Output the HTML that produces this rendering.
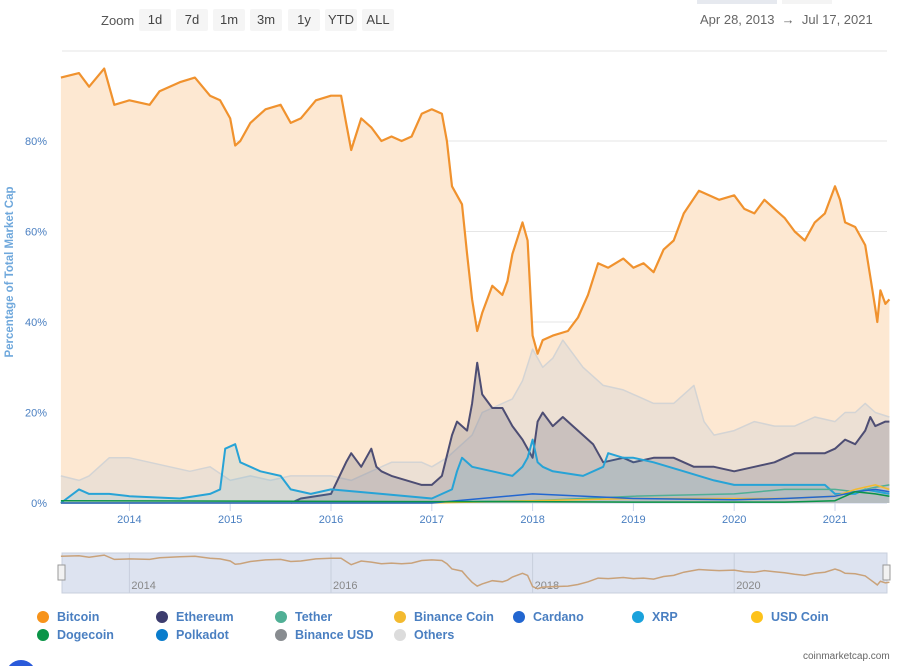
<!DOCTYPE html>
<html><head><meta charset="utf-8">
<style>
body{margin:0;background:#fff;font-family:"Liberation Sans",sans-serif;}
#wrap{position:relative;width:903px;height:666px;overflow:hidden;}
.btn{position:absolute;top:9px;height:22px;line-height:22px;background:#f5f5f5;color:#444;font-size:13px;text-align:center;border-radius:2px}
.leg{position:absolute;font-size:12.5px;color:#4a7fc1;font-weight:bold;}
.dot{display:inline-block;width:12px;height:12px;border-radius:6px;vertical-align:-2px;margin-right:8px}
</style></head><body>
<div id="wrap">
<div style="position:absolute;left:697px;top:0;width:80px;height:4px;background:#e6e9ef"></div>
<div style="position:absolute;left:782px;top:0;width:50px;height:4px;background:#f4f4f4"></div>
<div style="position:absolute;left:101px;top:13px;font-size:13px;color:#555">Zoom</div>
<div class="btn" style="left:139px;width:32px">1d</div>
<div class="btn" style="left:176px;width:32px">7d</div>
<div class="btn" style="left:213px;width:32px">1m</div>
<div class="btn" style="left:250px;width:32px">3m</div>
<div class="btn" style="left:288px;width:32px">1y</div>
<div class="btn" style="left:325px;width:32px">YTD</div>
<div class="btn" style="left:362px;width:32px">ALL</div>
<div style="position:absolute;left:700px;top:12px;font-size:13px;color:#666">Apr 28, 2013 &nbsp;→&nbsp; Jul 17, 2021</div>
<svg id="svg" width="903" height="666" style="position:absolute;left:0;top:0"></svg>
<div>
<div class="leg" style="left:37px;top:610px"><span class="dot" style="background:#f7931a"></span>Bitcoin</div>
<div class="leg" style="left:156px;top:610px"><span class="dot" style="background:#3c3c6e"></span>Ethereum</div>
<div class="leg" style="left:275px;top:610px"><span class="dot" style="background:#50af95"></span>Tether</div>
<div class="leg" style="left:394px;top:610px"><span class="dot" style="background:#f3ba2f"></span>Binance Coin</div>
<div class="leg" style="left:513px;top:610px"><span class="dot" style="background:#2266d0"></span>Cardano</div>
<div class="leg" style="left:632px;top:610px"><span class="dot" style="background:#1aa2dc"></span>XRP</div>
<div class="leg" style="left:751px;top:610px"><span class="dot" style="background:#fdc21a"></span>USD Coin</div>
<div class="leg" style="left:37px;top:628px"><span class="dot" style="background:#0a9447"></span>Dogecoin</div>
<div class="leg" style="left:156px;top:628px"><span class="dot" style="background:#0a7ccc"></span>Polkadot</div>
<div class="leg" style="left:275px;top:628px"><span class="dot" style="background:#888c90"></span>Binance USD</div>
<div class="leg" style="left:394px;top:628px"><span class="dot" style="background:#dcdcdc"></span>Others</div>
</div>
<div style="position:absolute;left:803px;top:651px;font-size:10px;color:#666">coinmarketcap.com</div>
<div style="position:absolute;left:6px;top:660px;width:30px;height:30px;border-radius:15px;background:#2a5ada"></div>
</div>
<script>
const btcT=[2013.32,2013.5,2013.6,2013.75,2013.85,2014.0,2014.2,2014.3,2014.5,2014.65,2014.8,2014.9,2015.0,2015.05,2015.1,2015.2,2015.35,2015.5,2015.6,2015.7,2015.85,2016.0,2016.1,2016.15,2016.2,2016.3,2016.4,2016.5,2016.6,2016.7,2016.8,2016.9,2017.0,2017.1,2017.15,2017.2,2017.3,2017.35,2017.4,2017.45,2017.5,2017.6,2017.7,2017.75,2017.8,2017.9,2017.95,2018.0,2018.05,2018.1,2018.2,2018.35,2018.45,2018.55,2018.65,2018.75,2018.9,2019.0,2019.1,2019.2,2019.3,2019.4,2019.5,2019.65,2019.75,2019.85,2020.0,2020.1,2020.2,2020.3,2020.4,2020.5,2020.6,2020.7,2020.8,2020.9,2021.0,2021.05,2021.1,2021.2,2021.3,2021.35,2021.4,2021.42,2021.45,2021.5,2021.54];
const btcV=[94,95,92,96,88,89,88,91,93,94,90,89,85,79,80,84,87,88,84,85,89,90,90,84,78,85,83,80,81,80,81,86,87,86,80,70,66,55,45,38,42,48,46,49,55,62,58,37,33,36,37,38,41,46,53,52,54,52,53,51,56,58,64,69,68,67,68,65,64,67,65,63,60,58,62,64,70,67,62,61,57,50,43,40,47,44,45];
const ethT=[2015.6,2015.7,2016.0,2016.15,2016.2,2016.3,2016.4,2016.45,2016.5,2016.6,2016.9,2017.0,2017.1,2017.2,2017.25,2017.35,2017.4,2017.45,2017.5,2017.6,2017.7,2017.8,2017.9,2017.95,2018.0,2018.05,2018.1,2018.2,2018.3,2018.4,2018.5,2018.6,2018.7,2018.9,2019.0,2019.2,2019.4,2019.6,2019.8,2020.0,2020.2,2020.4,2020.6,2020.8,2020.9,2021.0,2021.1,2021.2,2021.3,2021.35,2021.4,2021.5,2021.54];
const ethV=[0,1,2,9,11,8,12,8,7,6,4,4,6,15,18,16,22,31,24,21,21,17,14,12,10,18,20,17,19,17,15,13,9,10,9,10,10,8,8,7,8,9,11,11,11,12,14,13,16,19,17,18,18];
const xrpT=[2013.32,2013.5,2013.6,2013.8,2014.0,2014.5,2014.8,2014.9,2014.95,2015.05,2015.1,2015.2,2015.3,2015.5,2015.6,2015.8,2016.0,2016.5,2017.0,2017.2,2017.25,2017.3,2017.4,2017.6,2017.8,2017.9,2017.95,2018.0,2018.05,2018.1,2018.2,2018.5,2018.7,2018.75,2018.9,2019.0,2019.2,2019.5,2019.8,2020.0,2020.5,2020.9,2021.0,2021.2,2021.3,2021.54];
const xrpV=[0,3,2,2,1.5,1,2,3,12,13,9,8,7,6,3,2,3,2,1,3,7,10,8,7,6,8,10,14,9,8,7,6,8,11,10,10,9,7,5,4,4,4,2,2,3,2];
const othT=[2013.32,2013.5,2013.6,2013.8,2014.0,2014.2,2014.4,2014.6,2014.8,2015.0,2015.2,2015.4,2015.6,2015.8,2016.0,2016.2,2016.4,2016.6,2016.9,2017.0,2017.15,2017.3,2017.4,2017.5,2017.6,2017.8,2017.9,2018.0,2018.1,2018.2,2018.3,2018.4,2018.5,2018.7,2018.9,2019.0,2019.2,2019.4,2019.6,2019.7,2019.8,2020.0,2020.2,2020.4,2020.6,2020.8,2021.0,2021.1,2021.2,2021.3,2021.4,2021.54];
const othV=[6,5,6,10,10,9,8,7,8,5,6,5,6,6,6,5,7,9,9,8,10,13,15,20,21,23,27,34,30,32,36,33,30,26,25,24,22,22,26,18,15,16,18,17,17,19,18,20,20,22,20,19];
const smallT=[2013.32,2017.0,2018.0,2019.0,2020.0,2020.5,2021.0,2021.2,2021.4,2021.54];
const tetherV=[0,0.2,0.5,1.5,2,3,3,2.5,3.5,4];
const bnbV=[0,0,0.5,1,1,1,1.5,3,4,3];
const adaV=[0,0,2,1,0.7,1,1.5,2.5,3,2.5];
const dogeV=[0.5,0.3,0.3,0.2,0.2,0.2,0.5,2.5,2,1.5];
const yTicks=[0,20,40,60,80];
const xYears=[2014,2015,2016,2017,2018,2019,2020,2021];
const navYears=[2014,2016,2018,2020];

const NS="http://www.w3.org/2000/svg";
const svg=document.getElementById('svg');
const X=t=>331+(t-2016)*100.8;
const Y=v=>503-v*4.525;
const NY=v=>593-(v-25)/75*40;
function mk(tag,attrs,parent){const e=document.createElementNS(NS,tag);for(const k in attrs)e.setAttribute(k,attrs[k]);(parent||svg).appendChild(e);return e;}
// grid
mk('line',{x1:62,x2:887,y1:51,y2:51,stroke:'#e6e6e6'});
yTicks.forEach(v=>{const l=mk('line',{x1:62,x2:887,y1:Y(v),y2:Y(v),stroke:v==0?'#ccd6eb':'#e6e6e6'});


const t=mk('text',{x:47,y:Y(v)+4,'text-anchor':'end','font-size':11,fill:'#4a7fc1'});t.textContent=v+'%';

});
const yt=mk('text',{x:0,y:0,transform:'translate(13,272) rotate(-90)','text-anchor':'middle','font-size':11.5,fill:'#6fa8dc','font-weight':'bold'});yt.textContent='Percentage of Total Market Cap';


xYears.forEach(y=>{mk('line',{x1:X(y),x2:X(y),y1:503,y2:511,stroke:'#ccd6eb'});
const t=mk('text',{x:X(y),y:523,'text-anchor':'middle','font-size':11,fill:'#4a7fc1'});t.textContent=y;

});
function pts(T,V,f){return T.map((t,i)=>X(t).toFixed(1)+','+f(V[i]).toFixed(1)).join(' ');}
function series(name,T,V,stroke,fill,op,w){
 const base=X(T[0]).toFixed(1)+','+Y(0)+' '+pts(T,V,Y)+' '+X(T[T.length-1]).toFixed(1)+','+Y(0);
 if(fill){const a=mk('polygon',{points:base,fill:fill,'fill-opacity':op});
 
 }
 const l=mk('polyline',{points:pts(T,V,Y),fill:'none',stroke:stroke,'stroke-width':w||2,'stroke-linejoin':'round'});
 
 
}
series('bitcoin',btcT,btcV,'#f0922e','#fde8d2',1,2.2);
series('others',othT,othV,'#d4d4d4','#d8d8d8',0.45,1.5);
series('ethereum',ethT,ethV,'#4d4d73','#7a7a8a',0.3,2);
series('xrp',xrpT,xrpV,'#27a3d6','#27a3d6',0.12,2);
series('tether',smallT,tetherV,'#50af95',null,0,1.5);
series('binance-coin',smallT,bnbV,'#f3ba2f',null,0,1.5);
series('cardano',smallT,adaV,'#2266d0',null,0,1.5);
series('dogecoin',smallT,dogeV,'#0a9447',null,0,1.5);
// navigator
const nb=mk('rect',{x:62,y:553,width:825,height:40,fill:'#dde3f0',stroke:'#c8cfdd'});


navYears.forEach(y=>{mk('line',{x1:X(y),x2:X(y),y1:553,y2:593,stroke:'#c8cfdd'});
const t=mk('text',{x:X(y)+2,y:589,'font-size':11,fill:'#888'});t.textContent=y;

});
const nl=mk('polyline',{points:pts(btcT,btcV,NY),fill:'none',stroke:'#c9a27a','stroke-width':1.5});


[62,887].forEach((x,i)=>{const h=mk('rect',{x:x-4,y:565,width:7,height:15,fill:'#f2f2f2',stroke:'#999'});

});
</script>
</body></html>
